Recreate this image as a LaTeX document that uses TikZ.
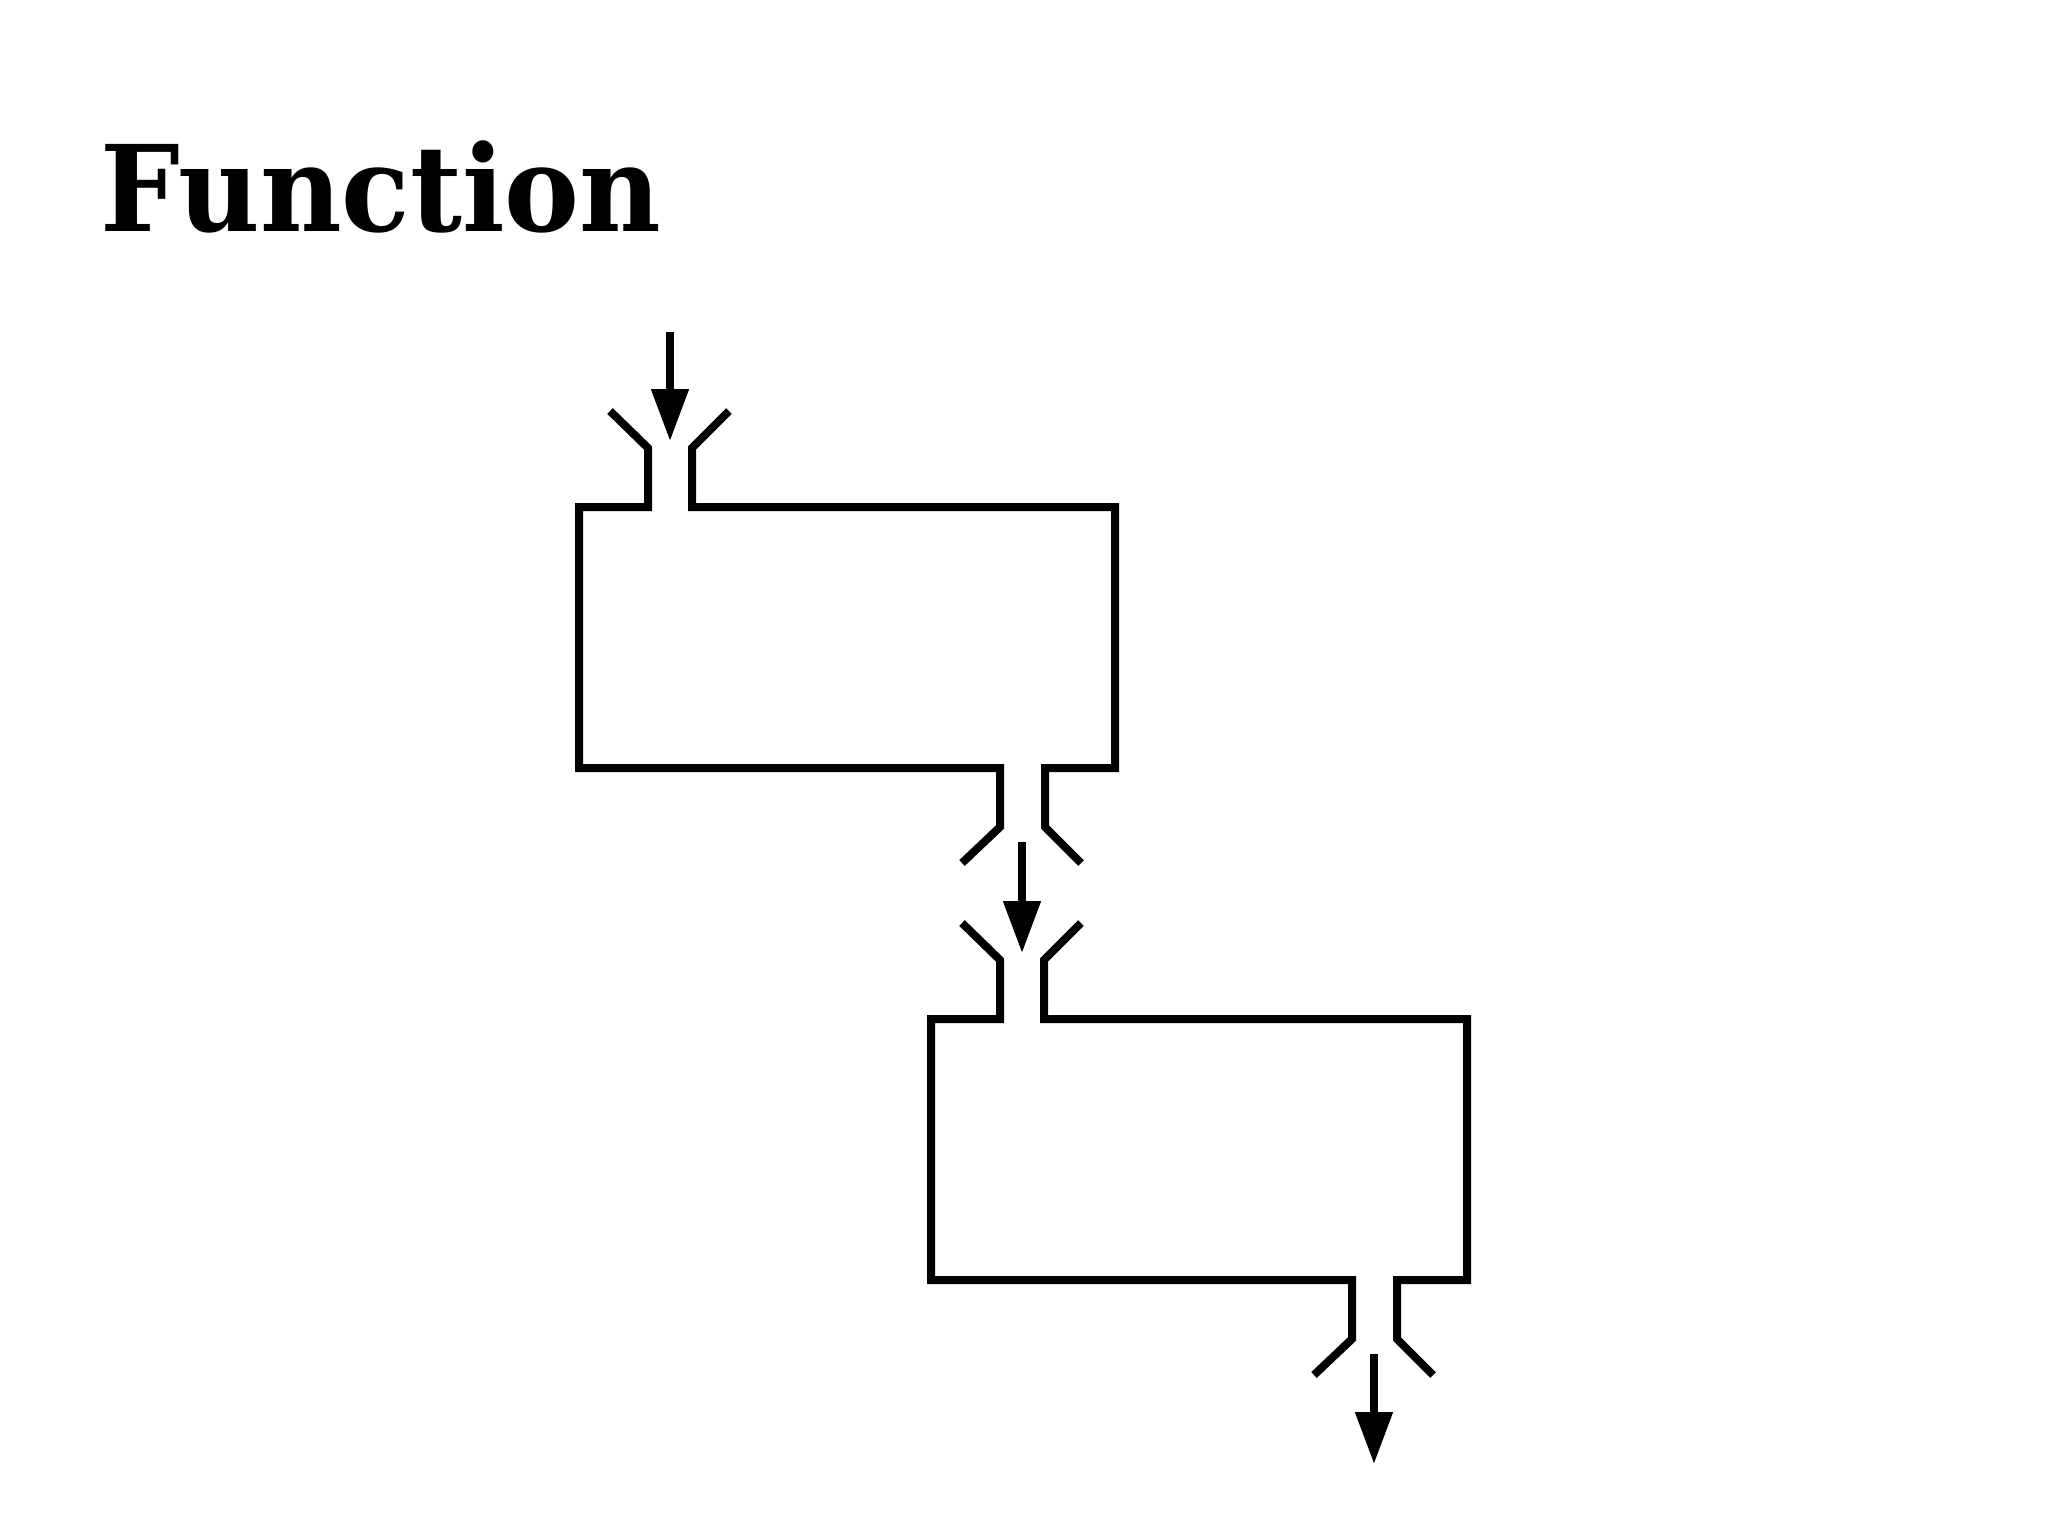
\documentclass[tikz,border=0pt]{standalone}
\usepackage{fontspec}
\setmainfont{DejaVu Serif}
\usetikzlibrary{arrows.meta,calc}

\begin{document}
\begin{tikzpicture}[
  wall/.style={line width=0.08cm},
  flow/.style={line width=0.08cm,-{Triangle[width=0.36cm,length=0.52cm]}}]

\useasboundingbox (0,0) rectangle (20.48,-15.35);

\node[anchor=base west,inner sep=0pt,font=\fontsize{34}{40}\selectfont\bfseries] (title) at (1.00,-2.31) {\scalebox{0.94}[1]{Function}};

% two function boxes, the second one shifted down and right
\foreach \n/\sx/\sy in {1/0/0,2/3.52/-5.12} {
  \begin{scope}[shift={(\sx,\sy)}]
    \draw[wall] (6.10,-4.11) -- (6.48,-4.48) -- (6.48,-5.07) -- (5.79,-5.07) -- (5.79,-7.68)
      -- (10.00,-7.68) -- (10.00,-8.27) -- (9.62,-8.63);
    \draw[wall] (7.29,-4.11) -- (6.92,-4.48) -- (6.92,-5.07) -- (11.15,-5.07) -- (11.15,-7.68)
      -- (10.45,-7.68) -- (10.45,-8.27) -- (10.81,-8.63);
    \coordinate (in\n) at (6.70,-4.41);
    \coordinate (out\n) at (10.22,-8.42);
  \end{scope}
}

\coordinate (src) at (6.70,-3.32);
\coordinate (sink) at ($(out2)+(0,-1.10)$);

\draw[flow] (src) -- (in1);
\draw[flow] (out1) -- (in2);
\draw[flow] (out2) -- (sink);

\end{tikzpicture}
\end{document}
